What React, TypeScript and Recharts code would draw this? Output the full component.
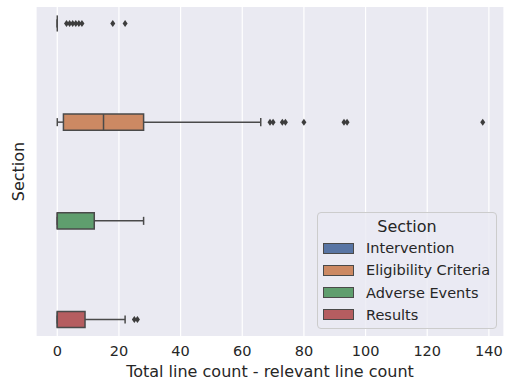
import React from "react";
import {
  ScatterChart,
  Scatter,
  XAxis,
  YAxis,
  CartesianGrid,
  ReferenceArea,
  ReferenceLine,
  Legend,
} from "recharts";

// values (line-count differences per section)
const sections = ["Intervention", "Eligibility Criteria", "Adverse Events", "Results"];
const whiskerLow = [0, 0, 0, 0];
const q1 = [0, 2, 0, 0];
const median = [0, 15, 0, 0];
const q3 = [0, 28, 12, 9];
const whiskerHigh = [0, 66, 28, 22];
const outliers = [
  [3, 4, 5, 6, 7, 8, 18, 22],
  [69, 70, 73, 74, 80, 93, 94, 138],
  [],
  [25, 26],
];
const xTicks = [0, 20, 40, 60, 80, 100, 120, 140];

const colors = ["#5875A4", "#CC8963", "#5F9E6E", "#B55D60"];
const lineColor = "#4a4a4a";
const textColor = "#262626";
const font = "DejaVu Sans";

// hue == section, so every category only fills its own hue slot
const hueWidth = 0.2;
const boxHalf = (hueWidth * 0.98) / 2;
const capHalf = boxHalf / 2;
const yPos = (i: number) => i + (i - (sections.length - 1) / 2) * hueWidth;

const outlierPoints = outliers.flatMap((vals, i) => vals.map((v) => ({ x: v, y: yPos(i) })));

const Diamond = (props: any) => {
  const { cx, cy } = props;
  if (cx == null || cy == null) return null;
  return (
    <path
      d={`M${cx},${cy - 3.5} L${cx + 2.5},${cy} L${cx},${cy + 3.5} L${cx - 2.5},${cy} Z`}
      fill="#3d3d3d"
    />
  );
};

const LegendBox = () => (
  <div
    style={{
      width: 180,
      height: 117,
      boxSizing: "border-box",
      border: "1px solid #cccccc",
      borderRadius: 4,
      background: "rgba(234,234,242,0.8)",
      position: "relative",
      fontFamily: font,
      color: textColor,
    }}
  >
    <div
      style={{
        position: "absolute",
        top: 4,
        left: 0,
        width: "100%",
        textAlign: "center",
        fontSize: 16,
        lineHeight: "20px",
      }}
    >
      Section
    </div>
    {sections.map((s, i) => (
      <div
        key={s}
        style={{
          position: "absolute",
          left: 5,
          top: 24 + i * 22.3,
          height: 22,
          display: "flex",
          alignItems: "center",
          fontSize: 14.5,
          whiteSpace: "nowrap",
        }}
      >
        <span
          style={{
            display: "inline-block",
            width: 31,
            height: 11,
            boxSizing: "border-box",
            background: colors[i],
            border: `1px solid ${lineColor}`,
            marginRight: 12,
          }}
        />
        {s}
      </div>
    ))}
  </div>
);

export default function App() {
  return (
    <div style={{ position: "absolute", left: 0, top: 0, width: 505, height: 380, background: "#fff" }}>
      <ScatterChart width={505} height={380} margin={{ top: 7, right: 1, bottom: 0, left: 0 }}>
        <CartesianGrid fill="#EAEAF2" horizontal={false} stroke="#ffffff" strokeWidth={1.2} />
        <XAxis
          type="number"
          dataKey="x"
          domain={[-6.9, 144.9]}
          ticks={xTicks}
          allowDataOverflow
          axisLine={false}
          tickLine={false}
          tickSize={0}
          tickMargin={10}
          height={44}
          tick={{ fontSize: 14.5, fill: textColor, fontFamily: font }}
          label={{
            value: "Total line count - relevant line count",
            position: "insideBottom",
            offset: 3,
            fontSize: 16,
            fill: textColor,
            fontFamily: font,
          }}
        />
        <YAxis
          type="number"
          dataKey="y"
          domain={[-0.5, 3.5]}
          reversed
          allowDataOverflow
          width={36}
          axisLine={false}
          tickLine={false}
          tick={false}
          label={{
            value: "Section",
            angle: -90,
            position: "center",
            fontSize: 16,
            fill: textColor,
            fontFamily: font,
          }}
        />
        {sections.map((s, i) => (
          <ReferenceLine
            key={`wl-${s}`}
            segment={[
              { x: whiskerLow[i], y: yPos(i) },
              { x: q1[i], y: yPos(i) },
            ]}
            stroke={lineColor}
            strokeWidth={1.5}
          />
        ))}
        {sections.map((s, i) => (
          <ReferenceLine
            key={`wh-${s}`}
            segment={[
              { x: q3[i], y: yPos(i) },
              { x: whiskerHigh[i], y: yPos(i) },
            ]}
            stroke={lineColor}
            strokeWidth={1.5}
          />
        ))}
        {sections.map((s, i) => (
          <ReferenceLine
            key={`cl-${s}`}
            segment={[
              { x: whiskerLow[i], y: yPos(i) - capHalf },
              { x: whiskerLow[i], y: yPos(i) + capHalf },
            ]}
            stroke={lineColor}
            strokeWidth={1.5}
          />
        ))}
        {sections.map((s, i) => (
          <ReferenceLine
            key={`ch-${s}`}
            segment={[
              { x: whiskerHigh[i], y: yPos(i) - capHalf },
              { x: whiskerHigh[i], y: yPos(i) + capHalf },
            ]}
            stroke={lineColor}
            strokeWidth={1.5}
          />
        ))}
        {sections.map((s, i) => (
          <ReferenceArea
            key={`box-${s}`}
            x1={q1[i]}
            x2={q3[i]}
            y1={yPos(i) - boxHalf}
            y2={yPos(i) + boxHalf}
            fill={colors[i]}
            fillOpacity={1}
            stroke={lineColor}
            strokeWidth={1.5}
          />
        ))}
        {sections.map((s, i) => (
          <ReferenceLine
            key={`med-${s}`}
            segment={[
              { x: median[i], y: yPos(i) - boxHalf },
              { x: median[i], y: yPos(i) + boxHalf },
            ]}
            stroke={lineColor}
            strokeWidth={1.5}
          />
        ))}
        <Scatter data={outlierPoints} shape={Diamond} isAnimationActive={false} />
        <Legend
          content={() => <LegendBox />}
          layout="horizontal"
          verticalAlign="middle"
          align="center"
          wrapperStyle={{ left: 317, top: 212, width: 180, height: 117 }}
        />
      </ScatterChart>
    </div>
  );
}
